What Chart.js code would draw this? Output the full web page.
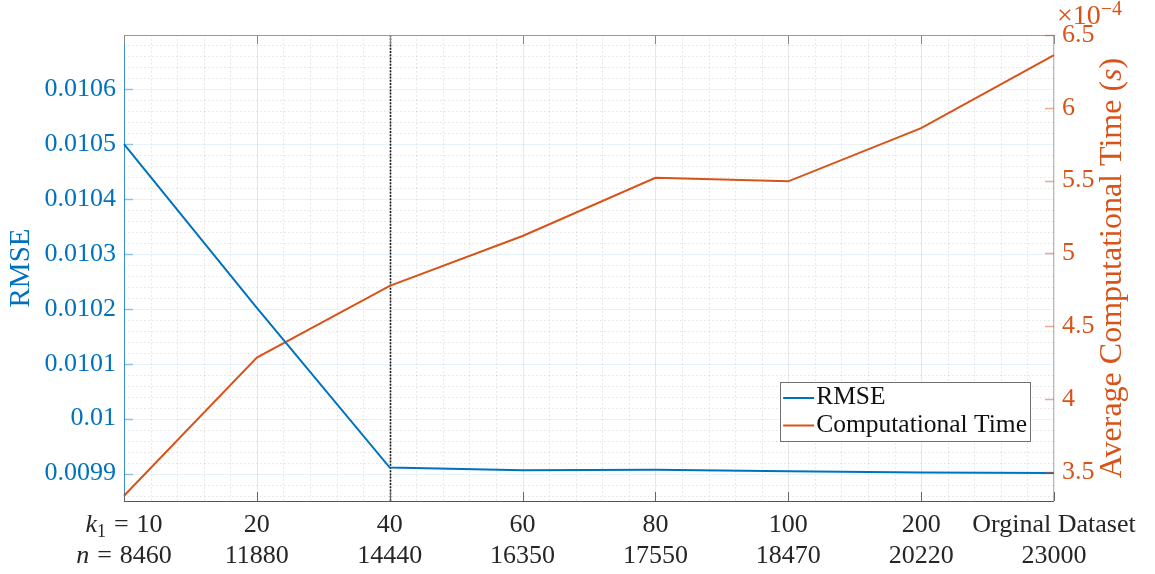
<!DOCTYPE html>
<html><head><meta charset="utf-8">
<script src="https://cdn.jsdelivr.net/npm/chart.js@4/dist/chart.umd.min.js"></script>
<style>html,body{margin:0;padding:0;background:#fff;}#wrap{width:1155px;height:574px;}</style>
</head><body><div id="wrap"><canvas id="c" width="1155" height="574"></canvas></div>
<script>
// ---- data ----
const kValues = ['10','20','40','60','80','100','200','Orginal Dataset'];
const nValues = ['8460','11880','14440','16350','17550','18470','20220','23000'];
const rmse = [0.01050, 0.010202, 0.009911, 0.009906, 0.009907, 0.009904, 0.009902, 0.009901];
const timeE4 = [3.336, 4.285, 4.777, 5.12, 5.52, 5.495, 5.86, 6.362];
const seriesNames = ['RMSE', 'Computational Time'];
const rmseAxis = {min: 0.00985, max: 0.010699, step: 0.0001};
const timeAxis = {min: 3.3, max: 6.5, step: 0.5};
const markerCategory = '40';

const BLUE = '#0072BD', ORANGE = '#D95319', TXT = '#262626';
const FAM = "'Liberation Serif', 'Times New Roman', serif";

function seg(ctx, x1, y1, x2, y2){ ctx.beginPath(); ctx.moveTo(x1,y1); ctx.lineTo(x2,y2); ctx.stroke(); }
function partW(ctx, p){ if (p.g) return p.g; ctx.font = p.f; return ctx.measureText(p.t).width; }
function partsWidth(ctx, parts){ let w=0; for(const p of parts) w += partW(ctx, p); return w; }
function drawParts(ctx, parts, x, y){ let cx=x; for(const p of parts){ if(!p.g){ ctx.font=p.f; ctx.fillText(p.t, cx, y+(p.dy||0)); } cx += partW(ctx, p); } }

const frame = {
  id: 'frame',
  beforeDatasetsDraw(chart){
    const {ctx, chartArea:a, scales:{x, y}} = chart;
    ctx.save();
    ctx.lineWidth = 1;
    // minor grid
    ctx.setLineDash([1.5, 2.5]);
    ctx.strokeStyle = 'rgba(38,38,38,0.13)';
    for (let i = 0; i < kValues.length - 1; i++) {
      const p0 = x.getPixelForValue(i), p1 = x.getPixelForValue(i + 1);
      for (let m = 1; m < 5; m++) { const px = Math.round(p0 + (p1 - p0) * m / 5) + 0.5; seg(ctx, px, a.top, px, a.bottom); }
    }
    const ms = rmseAxis.step / 5;
    const k0 = Math.ceil(rmseAxis.min / ms - 1e-6), k1 = Math.floor(rmseAxis.max / ms + 1e-6);
    for (let k = k0; k <= k1; k++) {
      if (k % 5 === 0) continue;
      const py = Math.round(y.getPixelForValue(k * ms)) + 0.5;
      seg(ctx, a.left, py, a.right, py);
    }
    ctx.setLineDash([]);
    // major grid
    ctx.strokeStyle = 'rgba(0,114,189,0.09)';
    for (const t of y.ticks) { const py = Math.round(y.getPixelForValue(t.value)) + 0.5; seg(ctx, a.left, py, a.right, py); }
    ctx.strokeStyle = 'rgba(38,38,38,0.11)';
    for (let i = 0; i < kValues.length; i++) { const px = Math.round(x.getPixelForValue(i)) + 0.5; seg(ctx, px, a.top, px, a.bottom); }
    // reference dotted line
    const rx = Math.round(x.getPixelForValue(kValues.indexOf(markerCategory))) + 0.5;
    ctx.strokeStyle = '#1a1a1a'; ctx.lineWidth = 1.6; ctx.setLineDash([2, 1.2]);
    seg(ctx, rx, a.top, rx, a.bottom);
    ctx.restore();
  },
  afterDatasetsDraw(chart){
    const {ctx, chartArea:a, scales:{x, y, y1}} = chart;
    ctx.save();
    ctx.lineWidth = 1; ctx.setLineDash([]);
    // axis lines
    ctx.strokeStyle = '#9a9a9a'; seg(ctx, a.left, a.top + 0.5, a.right, a.top + 0.5);
    ctx.strokeStyle = '#555'; seg(ctx, a.left, a.bottom + 0.5, a.right, a.bottom + 0.5);
    ctx.strokeStyle = 'rgba(0,114,189,0.75)'; seg(ctx, a.left + 0.5, a.top, a.left + 0.5, a.bottom + 1);
    ctx.strokeStyle = 'rgba(217,83,25,0.5)'; seg(ctx, a.right - 0.5, a.top, a.right - 0.5, a.bottom + 1);
    // inward ticks
    const TL = 9;
    ctx.lineWidth = 1.5;
    ctx.strokeStyle = 'rgba(0,114,189,0.4)';
    for (const t of y.ticks) { const py = Math.round(y.getPixelForValue(t.value)) + 0.5; seg(ctx, a.left, py, a.left + TL, py); }
    ctx.strokeStyle = 'rgba(217,83,25,0.5)';
    for (const t of y1.ticks) { const py = Math.round(y1.getPixelForValue(t.value)) + 0.5; seg(ctx, a.right - TL, py, a.right, py); }
    ctx.lineWidth = 1;
    for (let i = 0; i < kValues.length; i++) {
      const px = Math.round(x.getPixelForValue(i)) + 0.5;
      ctx.strokeStyle = '#666'; seg(ctx, px, a.bottom, px, a.bottom - TL);
      ctx.strokeStyle = '#888'; seg(ctx, px, a.top, px, a.top + TL);
    }
    // x tick labels (two lines)
    ctx.fillStyle = TXT; ctx.textBaseline = 'alphabetic'; ctx.textAlign = 'left';
    const F = '26px ' + FAM, FI = 'italic 26px ' + FAM, FS = '18px ' + FAM;
    const G = {g: 8};
    for (let i = 0; i < kValues.length; i++) {
      const px = x.getPixelForValue(i);
      const l1 = i === 0 ? [{t:'k', f:FI}, {t:'1', f:FS, dy:5}, G, {t:'=', f:F}, G, {t:kValues[i], f:F}] : [{t:kValues[i], f:F}];
      const l2 = i === 0 ? [{t:'n', f:FI}, G, {t:'=', f:F}, G, {t:nValues[i], f:F}] : [{t:nValues[i], f:F}];
      drawParts(ctx, l1, px - partsWidth(ctx, l1) / 2, a.bottom + 31);
      drawParts(ctx, l2, px - partsWidth(ctx, l2) / 2, a.bottom + 62);
    }
    // exponent label for right axis
    ctx.fillStyle = ORANGE;
    drawParts(ctx, [{t:'\u00d710', f:'28px ' + FAM}, {t:'\u22124', f:'20px ' + FAM, dy:-9}], a.right + 3, a.top - 11);
    // right axis title
    ctx.save();
    ctx.translate(1113, (a.top + a.bottom) / 2);
    ctx.rotate(-Math.PI / 2);
    ctx.textBaseline = 'middle';
    const TF = '32px ' + FAM, TFI = 'italic 32px ' + FAM;
    const tp = [{t:'Average Computational Time (', f:TF}, {t:'s', f:TFI}, {t:')', f:TF}];
    drawParts(ctx, tp, -partsWidth(ctx, tp) / 2, 0);
    ctx.restore();
    // legend
    const LF = '25.5px ' + FAM;
    ctx.font = LF;
    const tw = Math.max(...seriesNames.map(s => ctx.measureText(s).width));
    const bw = tw + 39, bh = 59;
    const bx = a.right - 24 - bw, by = a.bottom - 60 - bh;
    ctx.fillStyle = '#fff'; ctx.fillRect(bx, by, bw, bh);
    ctx.strokeStyle = '#707070'; ctx.lineWidth = 1; ctx.strokeRect(Math.round(bx) + 0.5, Math.round(by) + 0.5, Math.round(bw), bh);
    const colors = [BLUE, ORANGE];
    seriesNames.forEach((s, i) => {
      const ry = by + 16 + i * 27.5;
      ctx.strokeStyle = colors[i]; ctx.lineWidth = 2; seg(ctx, bx + 3, ry, bx + 34, ry);
      ctx.fillStyle = '#111'; ctx.font = LF; ctx.textBaseline = 'alphabetic'; ctx.fillText(s, bx + 36, ry + 6);
    });
    ctx.restore();
  }
};

const fmt = v => String(Number(v.toFixed(8)));

new Chart(document.getElementById('c'), {
  type: 'line',
  data: {
    labels: kValues,
    datasets: [
      {label: seriesNames[0], data: rmse, yAxisID: 'y', borderColor: BLUE, backgroundColor: BLUE, borderWidth: 2, pointRadius: 0, tension: 0},
      {label: seriesNames[1], data: timeE4, yAxisID: 'y1', borderColor: ORANGE, backgroundColor: ORANGE, borderWidth: 2, pointRadius: 0, tension: 0}
    ]
  },
  options: {
    responsive: false, animation: false, devicePixelRatio: 1,
    layout: {padding: {top: 35, left: 0, right: 0, bottom: 0}},
    plugins: {legend: {display: false}, tooltip: {enabled: false}},
    scales: {
      x: {type: 'category', offset: false, ticks: {display: false}, grid: {display: false, drawTicks: false}, border: {display: false},
          afterFit(s){ s.height = 73; }},
      y: {position: 'left', min: rmseAxis.min, max: rmseAxis.max,
          ticks: {stepSize: rmseAxis.step, includeBounds: false, color: BLUE, padding: 8, font: {family: FAM, size: 26}, callback: v => fmt(v)},
          grid: {display: false, drawTicks: false}, border: {display: false},
          title: {display: true, text: 'RMSE', color: BLUE, font: {family: FAM, size: 29}, padding: {top: 4, bottom: 4}},
          afterFit(s){ s.width = 124; }},
      y1: {position: 'right', min: timeAxis.min, max: timeAxis.max,
          ticks: {stepSize: timeAxis.step, includeBounds: false, color: ORANGE, padding: 8, font: {family: FAM, size: 26}, callback: v => fmt(v)},
          grid: {display: false, drawTicks: false}, border: {display: false},
          afterFit(s){ s.width = 101; }}
    }
  },
  plugins: [frame]
});
</script></body></html>
